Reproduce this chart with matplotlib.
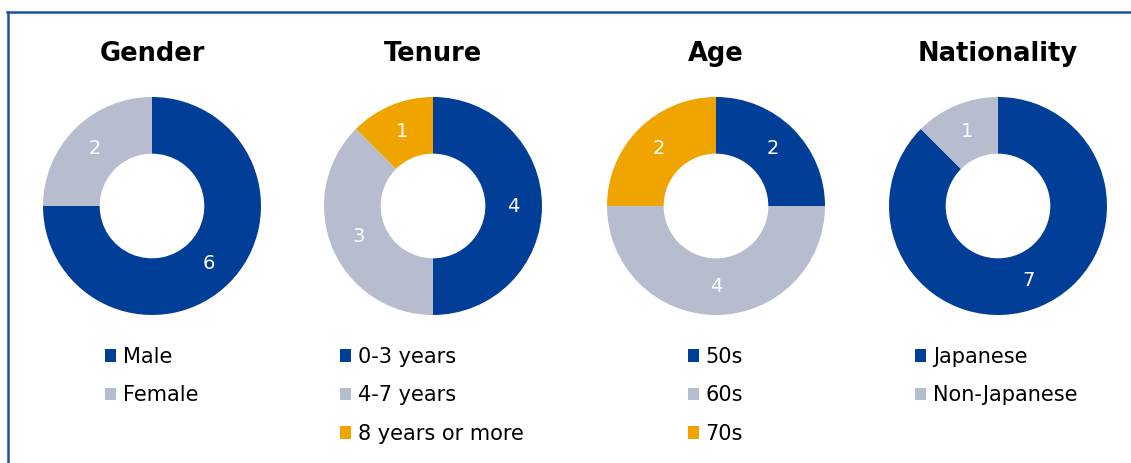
""" board composition donut charts: gender, tenure, age and nationality """

import matplotlib
matplotlib.use('Agg')
import matplotlib.pyplot as plt
from matplotlib.patches import Patch
from matplotlib.lines import Line2D

# data
titles = ['Gender', 'Tenure', 'Age', 'Nationality']
gender_labels = ['Male', 'Female']
gender_counts = [6, 2]
tenure_labels = ['0-3 years', '4-7 years', '8 years or more']
tenure_counts = [4, 3, 1]
age_labels = ['50s', '60s', '70s']
age_counts = [2, 4, 2]
nationality_labels = ['Japanese', 'Non-Japanese']
nationality_counts = [7, 1]

blue = '#003E98'
grey = '#B7BDCF'
orange = '#F0A400'
colours = [blue, grey, orange]

W, H = 1131, 463
fig = plt.figure(figsize=(W / 100, H / 100), dpi=100)
fig.patch.set_facecolor('white')

# pixel layout
centres_x = [152, 433, 716, 998]
centre_y = 206
radius = 109
legend_x = [105, 340, 688, 915]
legend_top = 347

charts = [(gender_labels, gender_counts), (tenure_labels, tenure_counts),
          (age_labels, age_counts), (nationality_labels, nationality_counts)]

for i, (labels, counts) in enumerate(charts):
    cx = centres_x[i]
    ax = fig.add_axes([(cx - radius) / W, 1 - (centre_y + radius) / H,
                       2 * radius / W, 2 * radius / H])
    total = sum(counts)
    ax.pie(counts, colors=colours[:len(counts)], startangle=90, counterclock=False,
           radius=1, wedgeprops=dict(width=0.52, edgecolor='none'),
           autopct=lambda p, t=total: '%d' % round(p * t / 100), pctdistance=0.74,
           textprops=dict(color='white', fontsize=14))
    ax.set_xlim(-1, 1)
    ax.set_ylim(-1, 1)
    ax.set_aspect('equal')
    ax.axis('off')

    fig.text(cx / W, 1 - 54 / H, titles[i], ha='center', va='center',
             fontsize=18.5, fontweight='bold', color='black')

    handles = [Patch(facecolor=colours[j], edgecolor='none', label=labels[j])
               for j in range(len(labels))]
    fig.legend(handles=handles, loc='upper left',
               bbox_to_anchor=(legend_x[i] / W, 1 - legend_top / H),
               frameon=False, fontsize=15, handlelength=0.55, handleheight=0.55,
               handletextpad=0.3, labelspacing=0.88, borderpad=0, borderaxespad=0)

# blue frame along top and left edge
fig.add_artist(Line2D([7 / W, 1], [1 - 12 / H, 1 - 12 / H], color='#1F4FA3', lw=1.8,
                      transform=fig.transFigure))
fig.add_artist(Line2D([8 / W, 8 / W], [1 - 12 / H, 0], color='#1F4FA3', lw=1.8,
                      transform=fig.transFigure))

fig.savefig('out.png', dpi=100)
